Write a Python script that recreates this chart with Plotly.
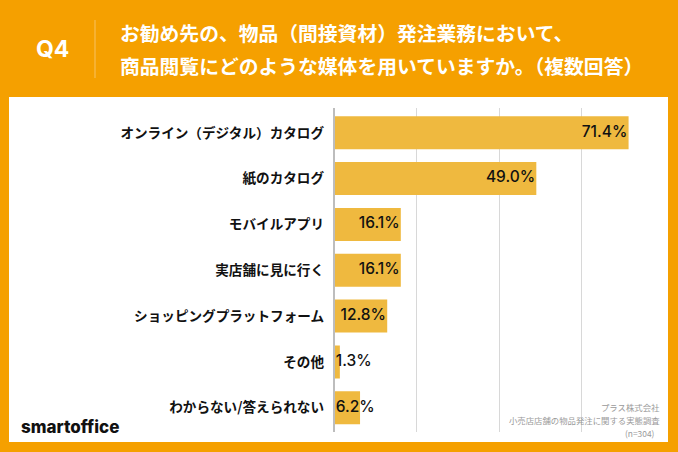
import plotly.graph_objects as go

labels = ["オンライン（デジタル）カタログ", "紙のカタログ", "モバイルアプリ", "実店舗に見に行く",
          "ショッピングプラットフォーム", "その他", "わからない/答えられない"]
values = [71.4, 49.0, 16.1, 16.1, 12.8, 1.3, 6.2]
texts = ["71.4%", "49.0%", "16.1%", "16.1%", "12.8%", "1.3%", "6.2%"]
ticks = [0, 20, 40, 60, 80]

titleLines = ["お勧め先の、物品（間接資材）発注業務において、", "商品閲覧にどのような媒体を用いていますか。（複数回答）"]
sourceLines = ["プラス株式会社", "小売店店舗の物品発注に関する実態調査", "(n=304)"]

WIDTH = 678
HEIGHT = 452
ORANGE = "#F5A000"
JP = "Noto Sans CJK JP"

class Chart:
    def __init__(self):
        self.fig = go.Figure()
        self.addBars()
        self.addPercentLabels()

        self.fig.update_layout(width         = WIDTH,
                               height        = HEIGHT,
                               margin        = {"l": 0, "r": 0, "t": 0, "b": 0},
                               paper_bgcolor = ORANGE,
                               plot_bgcolor  = "rgba(0,0,0,0)",
                               showlegend    = False,
                               bargap        = 0.28,
                               xaxis         = {"domain": [334.5 / WIDTH, 664 / WIDTH],
                                                "range": [0, 80],
                                                "tickvals": ticks,
                                                "showticklabels": False,
                                                "showgrid": True,
                                                "gridcolor": "#D8D8D8",
                                                "gridwidth": 1,
                                                "zeroline": False},
                               yaxis         = {"domain": [1 - 432 / HEIGHT, 1 - 108 / HEIGHT],
                                                "range": [6.53, -0.54],
                                                "type": "category",
                                                "ticklabelstandoff": 6,
                                                "ticks": "",
                                                "showline": True,
                                                "linecolor": "#BDBDBD",
                                                "linewidth": 1.5,
                                                "tickfont": {"family": JP, "size": 13.6, "color": "#111111", "weight": 700}})
        self.addPanel()
        self.addHeader()
        self.addFooter()

    def addBars(self):
        self.fig.add_trace(go.Bar(x           = values,
                                  y           = labels,
                                  orientation = "h",
                                  marker      = {"color": "#EFB93F", "line": {"width": 0}},
                                  hoverinfo   = "skip"))

    # the small bars cannot hold their label, so it starts from the axis there
    def addPercentLabels(self):
        inside = [i for i in range(len(values)) if values[i] > 10]
        small = [i for i in range(len(values)) if values[i] <= 10]
        self.fig.add_trace(go.Scatter(x            = [values[i] - 0.3 for i in inside],
                                      y            = [labels[i] for i in inside],
                                      text         = [texts[i] for i in inside],
                                      mode         = "text",
                                      textposition = "middle left",
                                      textfont     = {"family": "Inter", "size": 15.5, "color": "#111111", "weight": 500}))
        self.fig.add_trace(go.Scatter(x            = [0.3 for i in small],
                                      y            = [labels[i] for i in small],
                                      text         = [texts[i] for i in small],
                                      mode         = "text",
                                      textposition = "middle right",
                                      textfont     = {"family": "Inter", "size": 15.5, "color": "#111111", "weight": 500}))

    def addPanel(self):
        self.fig.add_shape(type = "rect", xref = "paper", yref = "paper", layer = "below",
                           x0 = 9 / WIDTH, x1 = 668 / WIDTH, y0 = 1 - 442 / HEIGHT, y1 = 1 - 97 / HEIGHT,
                           fillcolor = "white", line = {"width": 0})

    def addText(self, text, x, y, anchor, size, color, weight = 400, family = JP):
        self.fig.add_annotation(text      = text,
                                xref      = "paper",
                                yref      = "paper",
                                x         = x / WIDTH,
                                y         = 1 - y / HEIGHT,
                                xanchor   = anchor,
                                yanchor   = "middle",
                                showarrow = False,
                                font      = {"family": family, "size": size, "color": color, "weight": weight})

    def addHeader(self):
        self.fig.add_shape(type = "line", xref = "paper", yref = "paper",
                           x0 = 95 / WIDTH, x1 = 95 / WIDTH, y0 = 1 - 20 / HEIGHT, y1 = 1 - 78 / HEIGHT,
                           line = {"width": 1, "color": "#F8C263"})
        self.addText("Q4", 52, 49, "center", 23, "white", 700, "Inter")
        self.addText(titleLines[0], 118, 33, "left", 19.8, "white", 700)
        self.addText(titleLines[1], 118, 65, "left", 19.8, "white", 700)

    def addFooter(self):
        self.addText("smartoffice", 19, 427, "left", 17, "#111111", 800, "Inter")
        self.addText(sourceLines[0], 662, 407, "right", 8.4, "#9A9A9A")
        self.addText(sourceLines[1], 662, 420, "right", 8.4, "#9A9A9A")
        self.addText(sourceLines[2], 657, 433, "right", 8.4, "#9A9A9A")

chart = Chart()
# page margin off, the figure fills the whole window
chart.fig.write_html("out.html",
                     config      = {"displayModeBar": False},
                     post_script = "document.body.style.margin = '0';")
